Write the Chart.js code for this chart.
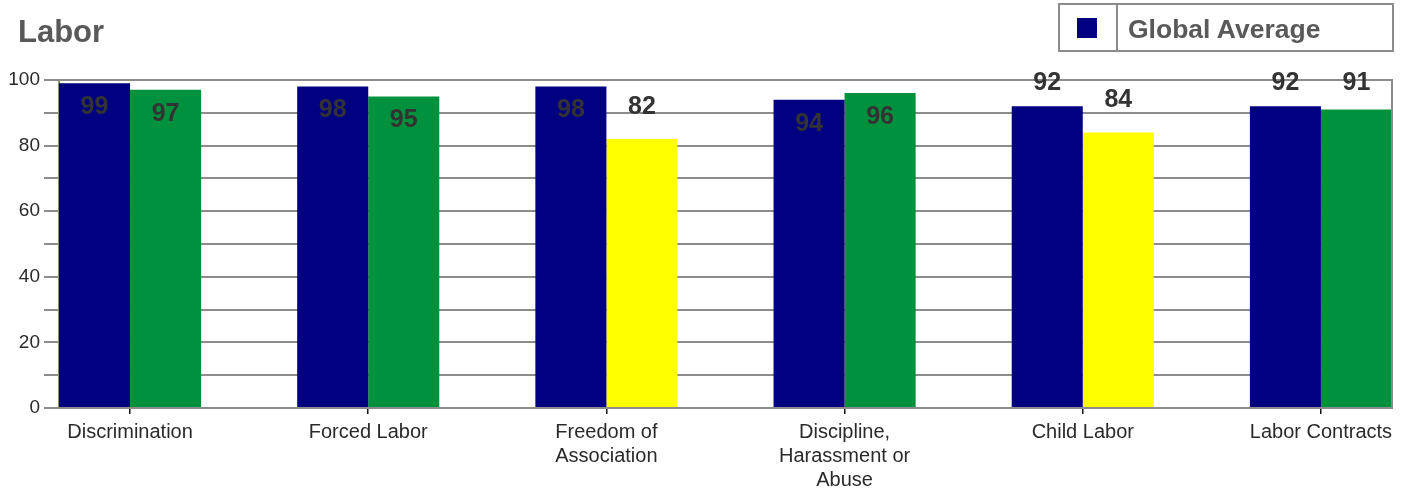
<!DOCTYPE html>
<html><head><meta charset="utf-8">
<script src="https://cdn.jsdelivr.net/npm/chart.js@4"></script>
<style>
html,body{margin:0;padding:0;background:#fff;}
#wrap{position:relative;width:1405px;height:495px;overflow:hidden;}
#c{position:absolute;left:0;top:0;}
.t{position:absolute;font-family:"Liberation Sans",Arial,sans-serif;font-weight:bold;color:#595959;white-space:nowrap;}
#title{left:18px;top:16px;font-size:31px;line-height:31px;}
#legbox{position:absolute;left:1058px;top:3px;width:336px;height:49px;box-sizing:border-box;border:2px solid #8c8c8c;}
#legdiv{position:absolute;left:1116px;top:3px;width:2px;height:49px;background:#8c8c8c;}
#legsq{position:absolute;left:1077px;top:18px;width:20px;height:20px;background:#000080;}
#legtxt{left:1128px;top:16px;font-size:26.5px;line-height:26px;}
</style>
</head><body>
<div id="wrap">
<canvas id="c" width="1405" height="495"></canvas>
<div class="t" id="title">Labor</div>
<div id="legbox"></div><div id="legdiv"></div><div id="legsq"></div>
<div class="t" id="legtxt">Global Average</div>
</div>
<script>
const categories = ['Discrimination', 'Forced Labor', ['Freedom of', 'Association'], ['Discipline,', 'Harassment or', 'Abuse'], 'Child Labor', 'Labor Contracts'];
const globalAverage = [99, 98, 98, 94, 92, 92];
const siteScores = [97, 95, 82, 96, 84, 91];
const siteColors = ['#00913f', '#00913f', '#ffff00', '#00913f', '#ffff00', '#00913f'];
const yTicks = [0, 20, 40, 60, 80, 100];

const FONT = '"Liberation Sans", Arial, sans-serif';
const GRID = '#8c8c8c';
const groupGapFrac = 71 / 238;

const valueLabels = {
  id: 'valueLabels',
  afterDatasetsDraw(chart) {
    const ctx = chart.ctx, area = chart.chartArea;
    ctx.save();
    ctx.font = 'bold 25px ' + FONT;
    ctx.fillStyle = '#333333';
    ctx.textAlign = 'center';
    ctx.textBaseline = 'middle';
    chart.data.datasets.forEach((ds, di) => {
      const meta = chart.getDatasetMeta(di);
      meta.data.forEach((bar, i) => {
        const v = ds.data[i].y;
        let y = bar.y - 32;
        if (y < area.top - 9) y = bar.y + 24;
        else y = Math.max(y, area.top + 3);
        ctx.fillText(String(v), bar.x, y);
      });
    });
    ctx.restore();
  }
};
const rightBorder = {
  id: 'rightBorder',
  afterDraw(chart) {
    const ctx = chart.ctx, a = chart.chartArea;
    ctx.save();
    ctx.strokeStyle = GRID; ctx.lineWidth = 2;
    ctx.beginPath(); ctx.moveTo(a.right, a.top - 1); ctx.lineTo(a.right, a.bottom + 1); ctx.stroke();
    ctx.restore();
  }
};

new Chart(document.getElementById('c'), {
  type: 'bar',
  data: {
    datasets: [
      { label: 'Global Average', data: globalAverage.map((v, i) => ({ x: i, y: v })), backgroundColor: '#000080' },
      { label: 'Score', data: siteScores.map((v, i) => ({ x: i, y: v })), backgroundColor: siteColors }
    ]
  },
  options: {
    responsive: false,
    animation: false,
    devicePixelRatio: 1,
    layout: { padding: { top: 80, right: 13, left: 0, bottom: 0 } },
    plugins: { legend: { display: false }, tooltip: { enabled: false } },
    datasets: { bar: { barPercentage: 1.0, categoryPercentage: 142 / 238, borderWidth: 0 } },
    scales: {
      x: {
        type: 'linear',
        offset: false,
        min: -groupGapFrac,
        max: categories.length - 1 + groupGapFrac,
        afterBuildTicks: (s) => { s.ticks = categories.map((c, i) => ({ value: i })); },
        afterFit: (s) => { s.height = 87; },
        ticks: {
          autoSkip: false, maxRotation: 0, minRotation: 0, padding: 6,
          color: '#2a2a2a', font: { family: FONT, size: 20 },
          callback: (v) => categories[v]
        },
        grid: { offset: false, drawOnChartArea: false, drawTicks: true, tickLength: 6, color: '#111', lineWidth: 1.5 },
        border: { display: true, color: GRID, width: 2 }
      },
      y: {
        min: 0, max: 100,
        afterBuildTicks: (s) => { s.ticks = []; for (let v = 0; v <= 100; v += 10) s.ticks.push({ value: v }); },
        afterFit: (s) => { s.width = 59; },
        ticks: {
          padding: 4, color: '#2a2a2a', font: { family: FONT, size: 19 },
          callback: (v) => (yTicks.includes(v) ? String(v) : '')
        },
        grid: { color: GRID, lineWidth: 2, tickLength: 15, drawTicks: true },
        border: { display: true, color: GRID, width: 2 }
      }
    }
  },
  plugins: [valueLabels, rightBorder]
});
</script>
</body></html>
